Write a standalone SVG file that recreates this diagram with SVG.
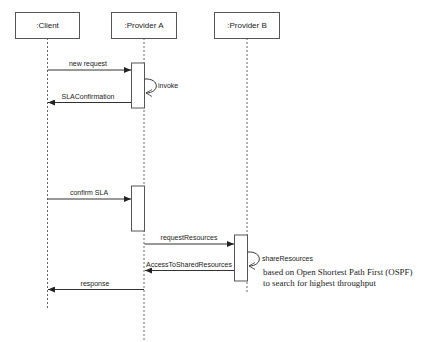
<svg xmlns="http://www.w3.org/2000/svg" width="427" height="342" viewBox="0 0 427 342">
<style>
.box{fill:#fff;stroke:#555;stroke-width:1}
.life{stroke:#666;stroke-width:1;stroke-dasharray:2,2;fill:none}
.act{fill:#fff;stroke:#555;stroke-width:1}
.msg{stroke:#333;stroke-width:1;fill:none}
.lbl{font-family:"Liberation Sans",Arial,sans-serif;font-size:7px;fill:#222}
.hd{font-family:"Liberation Sans",Arial,sans-serif;font-size:8px;fill:#222}
.note{font-family:"Liberation Serif","Times New Roman",serif;font-size:8.85px;fill:#222}
</style>
<defs>
<marker id="fa" markerWidth="8" markerHeight="6" refX="7" refY="3" orient="auto" markerUnits="userSpaceOnUse"><path d="M0,0 L7,3 L0,6 Z" fill="#222"/></marker>
<marker id="oa" markerWidth="8" markerHeight="8" refX="6" refY="4" orient="auto" markerUnits="userSpaceOnUse"><path d="M0,0.5 L6,4 L0,7.5" fill="none" stroke="#333" stroke-width="0.8"/></marker>
</defs>
<g id="client">
<line class="life" x1="47.5" y1="38" x2="47.5" y2="308"/>
<rect class="box" x="15.5" y="12.5" width="64" height="26"/>
<text class="hd" x="47.5" y="28" text-anchor="middle">:Client</text>
</g>
<g id="providerA">
<line class="life" x1="144" y1="38" x2="144" y2="342"/>
<rect class="box" x="111.5" y="12.5" width="65" height="26"/>
<text class="hd" x="144" y="28" text-anchor="middle">:Provider A</text>
<rect class="act" x="131.5" y="63" width="13" height="45"/>
<rect class="act" x="131.5" y="186" width="13" height="45"/>
</g>
<g id="providerB">
<line class="life" x1="247" y1="38" x2="247" y2="294"/>
<rect class="box" x="214.5" y="12.5" width="65" height="26"/>
<text class="hd" x="247" y="28" text-anchor="middle">:Provider B</text>
<rect class="act" x="234.5" y="235" width="13" height="46"/>
</g>
<g id="connectors">
<line class="msg" x1="47.5" y1="70" x2="131" y2="70" marker-end="url(#fa)"/>
<text class="lbl" x="88" y="66" text-anchor="middle">new request</text>
<path class="msg" d="M144.5,79 C160,78 160,93 146,93" marker-end="url(#oa)"/>
<text class="lbl" x="158" y="88">invoke</text>
<line class="msg" x1="131" y1="102.5" x2="48" y2="102.5" marker-end="url(#fa)"/>
<text class="lbl" x="88" y="99" text-anchor="middle">SLAConfirmation</text>
<line class="msg" x1="47.5" y1="199" x2="131" y2="199" marker-end="url(#fa)"/>
<text class="lbl" x="89" y="195" text-anchor="middle">confirm SLA</text>
<line class="msg" x1="144.5" y1="244" x2="234" y2="244" marker-end="url(#fa)"/>
<text class="lbl" x="189" y="240" text-anchor="middle">requestResources</text>
<path class="msg" d="M247.5,252 C263,251 263,266 249,266" marker-end="url(#oa)"/>
<text class="lbl" x="262" y="261">shareResources</text>
<line class="msg" x1="234" y1="270.5" x2="145" y2="270.5" marker-end="url(#fa)"/>
<text class="lbl" x="189" y="267" text-anchor="middle">AccessToSharedResources</text>
<line class="msg" x1="144" y1="289.5" x2="48" y2="289.5" marker-end="url(#fa)"/>
<text class="lbl" x="95" y="286" text-anchor="middle">response</text>
</g>
<text class="note" x="263" y="274.5">based on Open Shortest Path First (OSPF)</text>
<text class="note" x="263" y="285.5">to search for highest throughput</text>
</svg>
